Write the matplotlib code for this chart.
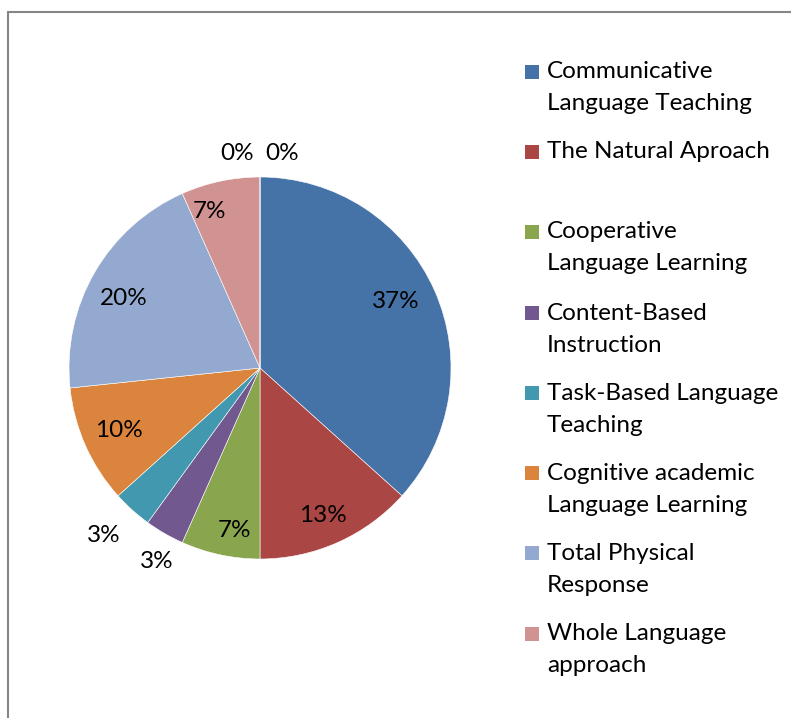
import numpy as np
import matplotlib
matplotlib.use("Agg")
import matplotlib.pyplot as plt
from matplotlib.patches import Rectangle

# Survey responses per teaching method (30 respondents)
methods = [
    "Communicative\nLanguage Teaching",
    "The Natural Aproach\n ",
    "Cooperative\nLanguage Learning",
    "Content-Based\nInstruction",
    "Task-Based Language\nTeaching",
    "Cognitive academic\nLanguage Learning",
    "Total Physical\nResponse",
    "Whole Language\napproach",
    "",
    "",
]
counts = [11, 4, 2, 1, 1, 3, 6, 2, 0, 0]
colors = ["#4572A7", "#AA4643", "#89A54E", "#71588F", "#4198AF",
          "#DB843D", "#93A9CF", "#D19392", "#A99BBD", "#7FBFD0"]

# Radial position of each percentage label (fraction of radius) and angular nudge
label_r = [0.79, 0.84, 0.86, 1.15, 1.20, 0.81, 0.80, 0.86, 1.13, 1.13]
label_dtheta = [2, -1, 3, 2, -1, 0, 3, 6, 6, -6]

W, H = 791, 718
fig = plt.figure(figsize=(W / 100, H / 100), dpi=100)
fig.patch.set_facecolor("white")

font = "Lato"
fs = 17.5

# Outer chart frame
fig.add_artist(Rectangle((8 / W, -0.05), 1.1, (H - 12) / H + 0.05,
                         transform=fig.transFigure, fill=False,
                         edgecolor="#868686", linewidth=1.5))

cx, cy, R = 260, 368, 191
ax = fig.add_axes([(cx - R) / W, (H - cy - R) / H, 2 * R / W, 2 * R / H])
wedges, _ = ax.pie(counts, colors=colors, startangle=90, counterclock=False,
                   radius=1.0, wedgeprops=dict(edgecolor="white", linewidth=0.4))
ax.set_xlim(-1, 1)
ax.set_ylim(-1, 1)
ax.set_aspect("equal")
ax.axis("off")

total = sum(counts)
for w, c, r, dt in zip(wedges, counts, label_r, label_dtheta):
    theta = np.deg2rad((w.theta1 + w.theta2) / 2 + dt)
    pct = f"{round(100 * c / total)}%"
    ax.text(r * np.cos(theta), r * np.sin(theta), pct, ha="center", va="center",
            fontsize=fs, family=font, color="black", clip_on=False)

# Legend drawn as colour squares with wrapped labels, one text per line
y_first = [72, 152, 232, 313, 393, 473, 553, 634]
line_gap = 32
for label, col, y in zip(methods[:8], colors[:8], y_first):
    fig.add_artist(Rectangle((525 / W, (H - y - 7) / H), 14 / W, 14 / H,
                             transform=fig.transFigure, facecolor=col,
                             edgecolor="none"))
    for i, line in enumerate(label.split("\n")):
        fig.text(547 / W, (H - y - i * line_gap) / H, line, ha="left",
                 va="center", fontsize=fs, family=font, color="black")

fig.savefig("out.png", dpi=100, facecolor="white")
